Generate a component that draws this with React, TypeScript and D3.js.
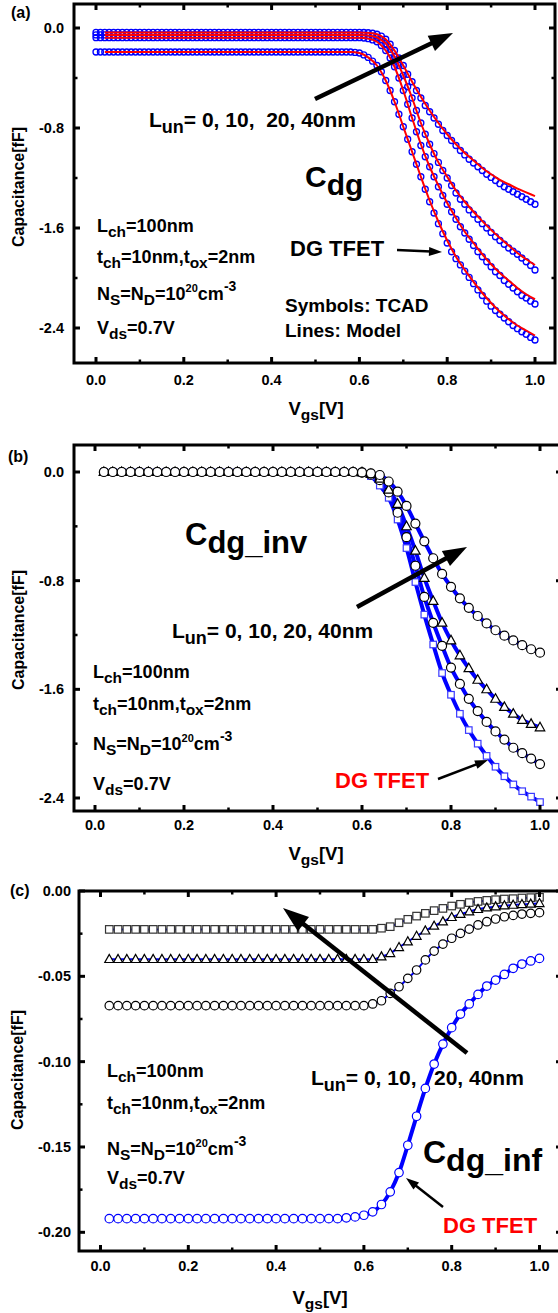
import React, { useEffect } from "react";
import * as d3 from "d3";

const FONT = '"Liberation Sans", Arial, Helvetica, sans-serif';
const BLUE = "#0000ff";
const RED = "#ff0000";
const W = 558;
const H = 1313;

// ---------- x grids ----------
const VGS_A = [
  0, 0.01, 0.02, 0.03, 0.04, 0.05, 0.06, 0.07, 0.08, 0.09,
  0.1, 0.11, 0.12, 0.13, 0.14, 0.15, 0.16, 0.17, 0.18, 0.19,
  0.2, 0.21, 0.22, 0.23, 0.24, 0.25, 0.26, 0.27, 0.28, 0.29,
  0.3, 0.31, 0.32, 0.33, 0.34, 0.35, 0.36, 0.37, 0.38, 0.39,
  0.4, 0.41, 0.42, 0.43, 0.44, 0.45, 0.46, 0.47, 0.48, 0.49,
  0.5, 0.51, 0.52, 0.53, 0.54, 0.55, 0.56, 0.57, 0.58, 0.59,
  0.6, 0.61, 0.62, 0.63, 0.64, 0.65, 0.66, 0.67, 0.68, 0.69,
  0.7, 0.71, 0.72, 0.73, 0.74, 0.75, 0.76, 0.77, 0.78, 0.79,
  0.8, 0.81, 0.82, 0.83, 0.84, 0.85, 0.86, 0.87, 0.88, 0.89,
  0.9, 0.91, 0.92, 0.93, 0.94, 0.95, 0.96, 0.97, 0.98, 0.99,
  1.0,
];
const VGS_B = [
  0.02, 0.04, 0.06, 0.08, 0.1, 0.12, 0.14, 0.16, 0.18, 0.2,
  0.22, 0.24, 0.26, 0.28, 0.3, 0.32, 0.34, 0.36, 0.38, 0.4,
  0.42, 0.44, 0.46, 0.48, 0.5, 0.52, 0.54, 0.56, 0.58, 0.6,
  0.62, 0.64, 0.66, 0.68, 0.7, 0.72, 0.74, 0.76, 0.78, 0.8,
  0.82, 0.84, 0.86, 0.88, 0.9, 0.92, 0.94, 0.96, 0.98, 1.0,
];

// ---------- panel (a): Cdg, TCAD symbols ----------
const A_TCAD_L40 = [
  -0.035, -0.035, -0.035, -0.035, -0.035, -0.035, -0.035, -0.035, -0.035, -0.035,
  -0.035, -0.035, -0.035, -0.035, -0.035, -0.035, -0.035, -0.035, -0.035, -0.035,
  -0.035, -0.035, -0.035, -0.035, -0.035, -0.035, -0.035, -0.035, -0.035, -0.035,
  -0.035, -0.035, -0.035, -0.035, -0.035, -0.035, -0.035, -0.035, -0.035, -0.035,
  -0.035, -0.035, -0.035, -0.035, -0.035, -0.035, -0.035, -0.035, -0.035, -0.035,
  -0.035, -0.035, -0.035, -0.035, -0.035, -0.035, -0.035, -0.035, -0.035, -0.035,
  -0.035, -0.036, -0.038, -0.042, -0.05, -0.065, -0.09, -0.13, -0.18, -0.24,
  -0.3, -0.37, -0.43, -0.5, -0.56, -0.62, -0.67, -0.72, -0.77, -0.82,
  -0.86, -0.9, -0.94, -0.98, -1.015, -1.05, -1.08, -1.11, -1.14, -1.17,
  -1.195, -1.22, -1.245, -1.27, -1.29, -1.31, -1.33, -1.35, -1.37, -1.39,
  -1.41,
];
const A_TCAD_L20 = [
  -0.055, -0.055, -0.055, -0.055, -0.055, -0.055, -0.055, -0.055, -0.055, -0.055,
  -0.055, -0.055, -0.055, -0.055, -0.055, -0.055, -0.055, -0.055, -0.055, -0.055,
  -0.055, -0.055, -0.055, -0.055, -0.055, -0.055, -0.055, -0.055, -0.055, -0.055,
  -0.055, -0.055, -0.055, -0.055, -0.055, -0.055, -0.055, -0.055, -0.055, -0.055,
  -0.055, -0.055, -0.055, -0.055, -0.055, -0.055, -0.055, -0.055, -0.055, -0.055,
  -0.055, -0.055, -0.055, -0.055, -0.055, -0.055, -0.055, -0.055, -0.055, -0.055,
  -0.055, -0.057, -0.06, -0.066, -0.076, -0.095, -0.125, -0.17, -0.23, -0.3,
  -0.38, -0.47, -0.56, -0.66, -0.76, -0.85, -0.93, -1.005, -1.075, -1.14,
  -1.2, -1.26, -1.32, -1.37, -1.41, -1.455, -1.49, -1.53, -1.565, -1.6,
  -1.635, -1.67, -1.7, -1.73, -1.76, -1.785, -1.81, -1.84, -1.87, -1.9,
  -1.936,
];
const A_TCAD_L10 = [
  -0.077, -0.077, -0.077, -0.077, -0.077, -0.077, -0.077, -0.077, -0.077, -0.077,
  -0.077, -0.077, -0.077, -0.077, -0.077, -0.077, -0.077, -0.077, -0.077, -0.077,
  -0.077, -0.077, -0.077, -0.077, -0.077, -0.077, -0.077, -0.077, -0.077, -0.077,
  -0.077, -0.077, -0.077, -0.077, -0.077, -0.077, -0.077, -0.077, -0.077, -0.077,
  -0.077, -0.077, -0.077, -0.077, -0.077, -0.077, -0.077, -0.077, -0.077, -0.077,
  -0.077, -0.077, -0.077, -0.077, -0.077, -0.077, -0.077, -0.077, -0.077, -0.077,
  -0.077, -0.08, -0.085, -0.095, -0.11, -0.14, -0.18, -0.24, -0.31, -0.4,
  -0.5, -0.61, -0.72, -0.83, -0.94, -1.03, -1.11, -1.19, -1.27, -1.34,
  -1.41, -1.47, -1.53, -1.59, -1.64, -1.69, -1.74, -1.79, -1.83, -1.87,
  -1.91, -1.95, -1.98, -2.02, -2.05, -2.08, -2.11, -2.14, -2.16, -2.185,
  -2.208,
];
const A_TCAD_L0 = [
  -0.192, -0.192, -0.192, -0.192, -0.192, -0.192, -0.192, -0.192, -0.192, -0.192,
  -0.192, -0.192, -0.192, -0.192, -0.192, -0.192, -0.192, -0.192, -0.192, -0.192,
  -0.192, -0.192, -0.192, -0.192, -0.192, -0.192, -0.192, -0.192, -0.192, -0.192,
  -0.192, -0.192, -0.192, -0.192, -0.192, -0.192, -0.192, -0.192, -0.192, -0.192,
  -0.192, -0.192, -0.192, -0.192, -0.192, -0.192, -0.192, -0.192, -0.192, -0.192,
  -0.192, -0.192, -0.192, -0.192, -0.192, -0.192, -0.192, -0.192, -0.192, -0.195,
  -0.2, -0.215, -0.235, -0.265, -0.3, -0.35, -0.42, -0.5, -0.59, -0.69,
  -0.79, -0.89, -0.99, -1.09, -1.19, -1.29, -1.39, -1.48, -1.565, -1.645,
  -1.72, -1.79, -1.845, -1.895, -1.945, -1.995, -2.045, -2.095, -2.14, -2.185,
  -2.225, -2.26, -2.29, -2.32, -2.35, -2.38, -2.405, -2.43, -2.45, -2.475,
  -2.496,
];
// panel (a): model lines (on VGS_B)
const A_MODEL_L40 = [
  -0.035, -0.035, -0.035, -0.035, -0.035, -0.035, -0.035, -0.035, -0.035, -0.035,
  -0.035, -0.035, -0.035, -0.035, -0.035, -0.035, -0.035, -0.035, -0.035, -0.035,
  -0.035, -0.035, -0.035, -0.035, -0.035, -0.035, -0.035, -0.035, -0.035, -0.035,
  -0.039, -0.05, -0.09, -0.18, -0.3, -0.43, -0.55, -0.66, -0.76, -0.85,
  -0.93, -1.0, -1.06, -1.12, -1.17, -1.215, -1.25, -1.285, -1.315, -1.345,
];
const A_MODEL_L20 = [
  -0.055, -0.055, -0.055, -0.055, -0.055, -0.055, -0.055, -0.055, -0.055, -0.055,
  -0.055, -0.055, -0.055, -0.055, -0.055, -0.055, -0.055, -0.055, -0.055, -0.055,
  -0.055, -0.055, -0.055, -0.055, -0.055, -0.055, -0.055, -0.055, -0.055, -0.055,
  -0.06, -0.076, -0.125, -0.23, -0.38, -0.56, -0.76, -0.93, -1.075, -1.19,
  -1.3, -1.39, -1.47, -1.545, -1.615, -1.68, -1.74, -1.8, -1.85, -1.896,
];
const A_MODEL_L10 = [
  -0.077, -0.077, -0.077, -0.077, -0.077, -0.077, -0.077, -0.077, -0.077, -0.077,
  -0.077, -0.077, -0.077, -0.077, -0.077, -0.077, -0.077, -0.077, -0.077, -0.077,
  -0.077, -0.077, -0.077, -0.077, -0.077, -0.077, -0.077, -0.077, -0.077, -0.077,
  -0.085, -0.11, -0.18, -0.31, -0.5, -0.72, -0.93, -1.11, -1.26, -1.4,
  -1.52, -1.63, -1.72, -1.81, -1.89, -1.96, -2.02, -2.08, -2.13, -2.17,
];
const A_MODEL_L0 = [
  -0.192, -0.192, -0.192, -0.192, -0.192, -0.192, -0.192, -0.192, -0.192, -0.192,
  -0.192, -0.192, -0.192, -0.192, -0.192, -0.192, -0.192, -0.192, -0.192, -0.192,
  -0.192, -0.192, -0.192, -0.192, -0.192, -0.192, -0.192, -0.192, -0.192, -0.2,
  -0.235, -0.3, -0.42, -0.59, -0.79, -0.99, -1.19, -1.38, -1.55, -1.7,
  -1.83, -1.935, -2.03, -2.12, -2.2, -2.27, -2.33, -2.38, -2.42, -2.46,
];

// ---------- panel (b): Cdg_inv (on VGS_B) ----------
const B_L0 = [
  0, 0, 0, 0, 0, 0, 0, 0, 0, 0,
  0, 0, 0, 0, 0, 0, 0, 0, 0, 0,
  0, 0, 0, 0, 0, 0, 0, 0, 0, -0.005,
  -0.03, -0.1, -0.19, -0.35, -0.56, -0.81, -1.05, -1.27, -1.48, -1.64,
  -1.78, -1.9, -2.0, -2.09, -2.17, -2.24, -2.3, -2.35, -2.39, -2.43,
];
const B_L10 = [
  0, 0, 0, 0, 0, 0, 0, 0, 0, 0,
  0, 0, 0, 0, 0, 0, 0, 0, 0, 0,
  0, 0, 0, 0, 0, 0, 0, 0, 0, -0.004,
  -0.02, -0.06, -0.15, -0.3, -0.48, -0.69, -0.92, -1.11, -1.28, -1.44,
  -1.56, -1.67, -1.76, -1.84, -1.91, -1.97, -2.03, -2.07, -2.11, -2.15,
];
const B_L20 = [
  0, 0, 0, 0, 0, 0, 0, 0, 0, 0,
  0, 0, 0, 0, 0, 0, 0, 0, 0, 0,
  0, 0, 0, 0, 0, 0, 0, 0, 0, -0.003,
  -0.015, -0.05, -0.13, -0.235, -0.4, -0.58, -0.78, -0.95, -1.11, -1.24,
  -1.35, -1.445, -1.53, -1.6, -1.67, -1.73, -1.78, -1.825, -1.855, -1.88,
];
const B_L40 = [
  0, 0, 0, 0, 0, 0, 0, 0, 0, 0,
  0, 0, 0, 0, 0, 0, 0, 0, 0, 0,
  0, 0, 0, 0, 0, 0, 0, 0, 0, -0.003,
  -0.01, -0.022, -0.07, -0.145, -0.25, -0.38, -0.51, -0.635, -0.75, -0.845,
  -0.93, -1.0, -1.06, -1.115, -1.165, -1.205, -1.24, -1.275, -1.305, -1.33,
];

// ---------- panel (c): Cdg_inf (on VGS_B) ----------
const C_L0 = [
  -0.192, -0.192, -0.192, -0.192, -0.192, -0.192, -0.192, -0.192, -0.192, -0.192,
  -0.192, -0.192, -0.192, -0.192, -0.192, -0.192, -0.192, -0.192, -0.192, -0.192,
  -0.192, -0.192, -0.192, -0.192, -0.192, -0.192, -0.192, -0.1915, -0.191, -0.19,
  -0.188, -0.1837, -0.1763, -0.165, -0.149, -0.132, -0.1157, -0.1014, -0.0897, -0.0801,
  -0.0721, -0.0662, -0.0606, -0.0557, -0.0522, -0.0489, -0.0453, -0.0428, -0.041, -0.0395,
];
const C_L10 = [
  -0.0672, -0.0672, -0.0672, -0.0672, -0.0672, -0.0672, -0.0672, -0.0672, -0.0672, -0.0672,
  -0.0672, -0.0672, -0.0672, -0.0672, -0.0672, -0.0672, -0.0672, -0.0672, -0.0672, -0.0672,
  -0.0672, -0.0672, -0.0672, -0.0672, -0.0672, -0.0672, -0.0672, -0.0672, -0.0672, -0.0672,
  -0.0662, -0.0643, -0.06, -0.0561, -0.0512, -0.0463, -0.0404, -0.0352, -0.0311, -0.0277,
  -0.0248, -0.0223, -0.0199, -0.018, -0.0164, -0.0151, -0.0143, -0.0135, -0.0131, -0.0127,
];
const C_L20 = [
  -0.04, -0.04, -0.04, -0.04, -0.04, -0.04, -0.04, -0.04, -0.04, -0.04,
  -0.04, -0.04, -0.04, -0.04, -0.04, -0.04, -0.04, -0.04, -0.04, -0.04,
  -0.04, -0.04, -0.04, -0.04, -0.04, -0.04, -0.04, -0.04, -0.04, -0.04,
  -0.04, -0.0385, -0.0365, -0.033, -0.0297, -0.0264, -0.0233, -0.0205, -0.018, -0.0154,
  -0.0135, -0.0121, -0.0107, -0.0098, -0.0092, -0.0086, -0.0082, -0.0078, -0.0076, -0.0072,
];
const C_L40 = [
  -0.0225, -0.0225, -0.0225, -0.0225, -0.0225, -0.0225, -0.0225, -0.0225, -0.0225, -0.0225,
  -0.0225, -0.0225, -0.0225, -0.0225, -0.0225, -0.0225, -0.0225, -0.0225, -0.0225, -0.0225,
  -0.0225, -0.0225, -0.0225, -0.0225, -0.0225, -0.0225, -0.0225, -0.0225, -0.0225, -0.0225,
  -0.0225, -0.0218, -0.0209, -0.0186, -0.0166, -0.0147, -0.0131, -0.0115, -0.0102, -0.0088,
  -0.0078, -0.0068, -0.0061, -0.0055, -0.0051, -0.0047, -0.0045, -0.0041, -0.0039, -0.0037,
];

// ---------- tick values ----------
const X_MAJOR = [0, 0.2, 0.4, 0.6, 0.8, 1.0];
const X_MINOR = [0.1, 0.3, 0.5, 0.7, 0.9];
const Y_MAJOR_AB = [0, -0.8, -1.6, -2.4];
const Y_MINOR_AB = [-0.4, -1.2, -2.0];
const Y_MAJOR_C = [0, -0.05, -0.1, -0.15, -0.2];
const Y_MINOR_C = [-0.025, -0.075, -0.125, -0.175];

type Pt = [number, number];
const zip = (xs: number[], ys: number[]): Pt[] => xs.map((x, i) => [x, ys[i]] as Pt);

type Seg = { t: string; s?: "sub" | "sup"; size?: number; dy?: number };

function Rich({ x, y, size, segs, fill = "#000", anchor = "start" }: { x: number; y: number; size: number; segs: Seg[]; fill?: string; anchor?: string }) {
  let cur = 0;
  const spans = segs.map((s, i) => {
    let target = 0;
    let fs = s.size ?? size;
    if (s.s === "sub") {
      target = s.dy ?? size * 0.3;
      fs = s.size ?? size * 0.82;
    } else if (s.s === "sup") {
      target = s.dy ?? -size * 0.45;
      fs = s.size ?? size * 0.62;
    }
    const dy = target - cur;
    cur = target;
    return (
      <tspan key={i} dy={dy} fontSize={fs}>
        {s.t}
      </tspan>
    );
  });
  return (
    <text x={x} y={y} fontSize={size} fill={fill} textAnchor={anchor as any} fontWeight="bold" fontFamily={FONT} style={{ whiteSpace: "pre" }} xmlSpace="preserve">
      {spans}
    </text>
  );
}

function Arrow({ x1, y1, x2, y2, w, hl, hw }: { x1: number; y1: number; x2: number; y2: number; w: number; hl: number; hw: number }) {
  const dx = x2 - x1;
  const dy = y2 - y1;
  const len = Math.hypot(dx, dy);
  const ux = dx / len;
  const uy = dy / len;
  const bx = x2 - ux * hl;
  const by = y2 - uy * hl;
  const px = -uy;
  const py = ux;
  return (
    <g>
      <line x1={x1} y1={y1} x2={bx + ux * 2} y2={by + uy * 2} stroke="#000" strokeWidth={w} />
      <polygon points={`${x2},${y2} ${bx + (px * hw) / 2},${by + (py * hw) / 2} ${bx - (px * hw) / 2},${by - (py * hw) / 2}`} fill="#000" />
    </g>
  );
}

function Marker({ shape, x, y, size, stroke, fill, sw }: { shape: string; x: number; y: number; size: number; stroke: string; fill: string; sw: number }) {
  if (shape === "circle") return <circle cx={x} cy={y} r={size / 2} stroke={stroke} fill={fill} strokeWidth={sw} />;
  if (shape === "square") return <rect x={x - size / 2} y={y - size / 2} width={size} height={size} stroke={stroke} fill={fill} strokeWidth={sw} />;
  const h = size * 0.9;
  return <polygon points={`${x},${y - h * 0.6} ${x - size / 2},${y + h * 0.4} ${x + size / 2},${y + h * 0.4}`} stroke={stroke} fill={fill} strokeWidth={sw} />;
}

function Axes({
  xs, ys, L, R, T, B, yMaj, yMin, yFmt, xLabelY, yLabelX, xTitleY, xTitleX, yTitleX, yTitleY,
}: {
  xs: d3.ScaleLinear<number, number>; ys: d3.ScaleLinear<number, number>; L: number; R: number; T: number; B: number;
  yMaj: number[]; yMin: number[]; yFmt: (v: number) => string; xLabelY: number; yLabelX: number; xTitleY: number; xTitleX: number; yTitleX: number; yTitleY: number;
}) {
  const MJ = 6, MN = 3.5;
  return (
    <g>
      {X_MAJOR.map((v) => (
        <g key={"xm" + v}>
          <line x1={xs(v)} x2={xs(v)} y1={B} y2={B - MJ} stroke="#000" strokeWidth={3} />
          <line x1={xs(v)} x2={xs(v)} y1={T} y2={T + MJ} stroke="#000" strokeWidth={3} />
          <text x={xs(v)} y={xLabelY} textAnchor="middle" fontSize={14.5} fontWeight="bold" fontFamily={FONT}>{v.toFixed(1)}</text>
        </g>
      ))}
      {X_MINOR.map((v) => (
        <g key={"xn" + v}>
          <line x1={xs(v)} x2={xs(v)} y1={B} y2={B - MN} stroke="#000" strokeWidth={2.5} />
          <line x1={xs(v)} x2={xs(v)} y1={T} y2={T + MN} stroke="#000" strokeWidth={2.5} />
        </g>
      ))}
      {yMaj.map((v) => (
        <g key={"ym" + v}>
          <line x1={L} x2={L + MJ} y1={ys(v)} y2={ys(v)} stroke="#000" strokeWidth={3} />
          <line x1={R} x2={R - MJ} y1={ys(v)} y2={ys(v)} stroke="#000" strokeWidth={3} />
          <text x={yLabelX} y={ys(v) + 5} textAnchor="end" fontSize={14.5} fontWeight="bold" fontFamily={FONT}>{yFmt(v)}</text>
        </g>
      ))}
      {yMin.map((v) => (
        <g key={"yn" + v}>
          <line x1={L} x2={L + MN} y1={ys(v)} y2={ys(v)} stroke="#000" strokeWidth={2.5} />
          <line x1={R} x2={R - MN} y1={ys(v)} y2={ys(v)} stroke="#000" strokeWidth={2.5} />
        </g>
      ))}
      <rect x={L} y={T} width={R - L} height={B - T} fill="none" stroke="#000" strokeWidth={3} />
      <Rich x={xTitleX} y={xTitleY} size={18.5} anchor="middle" segs={[{ t: "V" }, { t: "gs", s: "sub", dy: 5, size: 15.5 }, { t: "[V]" }]} />
      <text transform={`translate(${yTitleX},${yTitleY}) rotate(-90)`} textAnchor="middle" fontSize={16} fontWeight="bold" fontFamily={FONT}>
        Capacitance[fF]
      </text>
    </g>
  );
}

function InfoBlock({ x, y1, y2, y3, y4 }: { x: number; y1: number; y2: number; y3: number; y4: number }) {
  const sz = 18;
  const sub = { s: "sub" as const, dy: 5, size: 15.5 };
  return (
    <g>
      <Rich x={x} y={y1} size={sz} segs={[{ t: "L" }, { t: "ch", ...sub }, { t: "=100nm" }]} />
      <Rich x={x} y={y2} size={sz} segs={[{ t: "t" }, { t: "ch", ...sub }, { t: "=10nm,t" }, { t: "ox", ...sub }, { t: "=2nm" }]} />
      <Rich
        x={x}
        y={y3}
        size={sz}
        segs={[
          { t: "N" }, { t: "S", ...sub }, { t: "=N" }, { t: "D", ...sub }, { t: "=10" },
          { t: "20", s: "sup", dy: -8, size: 11 }, { t: "cm" }, { t: "-3", s: "sup", dy: -9, size: 14 },
        ]}
      />
      <Rich x={x} y={y4} size={sz} segs={[{ t: "V" }, { t: "ds", ...sub }, { t: "=0.7V" }]} />
    </g>
  );
}

function LunText({ x, y, gap }: { x: number; y: number; gap: string }) {
  return <Rich x={x} y={y} size={21} segs={[{ t: "L" }, { t: "un", s: "sub", dy: 6, size: 18 }, { t: `= 0, 10,${gap}20, 40nm` }]} />;
}

function PanelA() {
  const xs = d3.scaleLinear().domain([0, 1]).range([96, 535]);
  const ys = d3.scaleLinear().domain([0, -2.4]).range([28, 328]);
  const line = d3.line<Pt>().x((d) => xs(d[0])).y((d) => ys(d[1])).curve(d3.curveMonotoneX);
  const tcad = [A_TCAD_L0, A_TCAD_L10, A_TCAD_L20, A_TCAD_L40];
  const model = [A_MODEL_L0, A_MODEL_L10, A_MODEL_L20, A_MODEL_L40];
  return (
    <g>
      {tcad.map((ser, k) => (
        <g key={"t" + k}>
          {zip(VGS_A, ser).map((d, i) => (
            <circle key={i} cx={xs(d[0])} cy={ys(d[1])} r={3} fill="none" stroke={BLUE} strokeWidth={1.3} />
          ))}
        </g>
      ))}
      {model.map((ser, k) => (
        <path key={"m" + k} d={line(zip(VGS_B, ser)) || ""} fill="none" stroke={RED} strokeWidth={2} />
      ))}
      <Axes xs={xs} ys={ys} L={74} R={555} T={4} B={363} yMaj={Y_MAJOR_AB} yMin={Y_MINOR_AB} yFmt={(v) => v.toFixed(1)}
        xLabelY={385} yLabelX={64} xTitleY={415} xTitleX={316} yTitleX={24} yTitleY={187} />
      <Rich x={11} y={18} size={16} segs={[{ t: "(a)" }]} />
      <LunText x={149} y={127} gap={"  "} />
      <Arrow x1={315} y1={99} x2={453} y2={33} w={4.5} hl={24} hw={17} />
      <Rich x={305} y={187} size={30} segs={[{ t: "C" }, { t: "dg", s: "sub", dy: 8, size: 30 }]} />
      <InfoBlock x={97} y1={232} y2={263} y3={300} y4={334} />
      <Rich x={290} y={256} size={22} segs={[{ t: "DG TFET" }]} />
      <Arrow x1={397} y1={250} x2={442} y2={252} w={2.5} hl={13} hw={9} />
      <Rich x={285} y={312} size={19} segs={[{ t: "Symbols: TCAD" }]} />
      <Rich x={285} y={337} size={19} segs={[{ t: "Lines: Model" }]} />
    </g>
  );
}

function PanelB() {
  const xs = d3.scaleLinear().domain([0, 1]).range([95, 540]);
  const ys = d3.scaleLinear().domain([0, -2.4]).range([472, 798]);
  const line = d3.line<Pt>().x((d) => xs(d[0])).y((d) => ys(d[1])).curve(d3.curveMonotoneX);
  const series = [
    { y: B_L0, shape: "square", stroke: "#3a3aff", size: 6.5 },
    { y: B_L10, shape: "circle", stroke: "#000", size: 9 },
    { y: B_L20, shape: "triangle", stroke: "#000", size: 9.5 },
    { y: B_L40, shape: "circle", stroke: "#000", size: 9 },
  ];
  return (
    <g>
      {series.map((s, k) => (
        <path key={"l" + k} d={line(zip(VGS_B, s.y)) || ""} fill="none" stroke={BLUE} strokeWidth={4} />
      ))}
      {series.map((s, k) => (
        <g key={"s" + k}>
          {zip(VGS_B, s.y).map((d, i) => (
            <Marker key={i} shape={s.shape} x={xs(d[0])} y={ys(d[1])} size={s.size} stroke={s.stroke} fill="#fff" sw={1.2} />
          ))}
        </g>
      ))}
      <Axes xs={xs} ys={ys} L={74} R={562} T={445} B={811} yMaj={Y_MAJOR_AB} yMin={Y_MINOR_AB} yFmt={(v) => v.toFixed(1)}
        xLabelY={830} yLabelX={64} xTitleY={860} xTitleX={316} yTitleX={24} yTitleY={630} />
      <Rich x={8} y={462} size={16} segs={[{ t: "(b)" }]} />
      <Rich x={185} y={545} size={31} segs={[{ t: "C" }, { t: "dg_inv", s: "sub", dy: 8, size: 31 }]} />
      <LunText x={172} y={638} gap={" "} />
      <Arrow x1={357} y1={607} x2={467} y2={547} w={4.5} hl={24} hw={17} />
      <InfoBlock x={93} y1={678} y2={710} y3={750} y4={790} />
      <Rich x={335} y={788} size={22} fill={RED} segs={[{ t: "DG TFET" }]} />
      <Arrow x1={438} y1={779} x2={488} y2={760} w={2.5} hl={13} hw={9} />
    </g>
  );
}

function PanelC() {
  const xs = d3.scaleLinear().domain([0, 1]).range([100.5, 539.5]);
  const ys = d3.scaleLinear().domain([0, -0.2]).range([891, 1232.3]);
  const line = d3.line<Pt>().x((d) => xs(d[0])).y((d) => ys(d[1])).curve(d3.curveMonotoneX);
  const series = [
    { y: C_L40, shape: "square", stroke: "#333", size: 7.5, lw: 2 },
    { y: C_L20, shape: "triangle", stroke: "#000", size: 9, lw: 2 },
    { y: C_L10, shape: "circle", stroke: "#000", size: 8.5, lw: 2 },
    { y: C_L0, shape: "circle", stroke: BLUE, size: 8.5, lw: 4 },
  ];
  return (
    <g>
      {series.map((s, k) => (
        <path key={"l" + k} d={line(zip(VGS_B, s.y)) || ""} fill="none" stroke={BLUE} strokeWidth={s.lw} />
      ))}
      {series.map((s, k) => (
        <g key={"s" + k}>
          {zip(VGS_B, s.y).map((d, i) => (
            <Marker key={i} shape={s.shape} x={xs(d[0])} y={ys(d[1])} size={s.size} stroke={s.stroke} fill="#fff" sw={1.2} />
          ))}
        </g>
      ))}
      <Axes xs={xs} ys={ys} L={79} R={562} T={891} B={1251} yMaj={Y_MAJOR_C} yMin={Y_MINOR_C} yFmt={(v) => v.toFixed(2)}
        xLabelY={1271} yLabelX={71} xTitleY={1304} xTitleX={320} yTitleX={23} yTitleY={1070} />
      <Rich x={10} y={896} size={16} segs={[{ t: "(c)" }]} />
      <Arrow x1={467} y1={1053} x2={283} y2={908} w={4.5} hl={26} hw={18} />
      <LunText x={311} y={1085} gap={"   "} />
      <InfoBlock x={107} y1={1077} y2={1109} y3={1155} y4={1184} />
      <Rich x={423} y={1163} size={32} segs={[{ t: "C" }, { t: "dg_inf", s: "sub", dy: 8, size: 32 }]} />
      <Rich x={443} y={1233} size={22} fill={RED} segs={[{ t: "DG TFET" }]} />
      <Arrow x1={443} y1={1207} x2={406} y2={1178} w={2.5} hl={13} hw={9} />
    </g>
  );
}

export default function App() {
  useEffect(() => {
    document.body.style.margin = "0";
    document.body.style.overflow = "hidden";
  }, []);
  return (
    <svg width={W} height={H} viewBox={`0 0 ${W} ${H}`} style={{ position: "absolute", left: 0, top: 0, display: "block", background: "#fff" }}>
      <rect x={0} y={0} width={W} height={H} fill="#fff" />
      <PanelA />
      <PanelB />
      <PanelC />
    </svg>
  );
}
